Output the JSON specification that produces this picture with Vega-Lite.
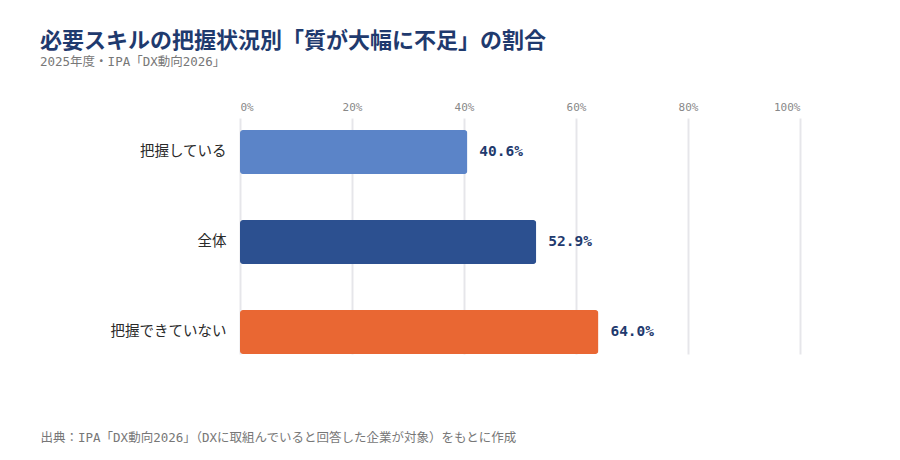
{
  "$schema": "https://vega.github.io/schema/vega-lite/v6.json",
  "width": 560,
  "height": 236,
  "autosize": {"type": "none"},
  "padding": {"left": 240, "top": 118, "right": 100, "bottom": 106},
  "background": "#ffffff",
  "title": {
    "text": "必要スキルの把握状況別「質が大幅に不足」の割合",
    "subtitle": "2025年度・IPA「DX動向2026」",
    "anchor": "start",
    "frame": "group",
    "dx": -200,
    "offset": 32,
    "font": "Noto Sans CJK JP",
    "fontSize": 22,
    "fontWeight": "bold",
    "color": "#1f3a6e",
    "subtitleFont": "DejaVu Sans Mono, Noto Sans CJK JP",
    "subtitleFontSize": 12.5,
    "subtitleColor": "#777777",
    "subtitlePadding": 3
  },
  "data": {
    "values": [
      {"group": "把握している", "rate": 0.406},
      {"group": "全体", "rate": 0.529},
      {"group": "把握できていない", "rate": 0.640}
    ]
  },
  "encoding": {
    "y": {
      "field": "group",
      "type": "nominal",
      "sort": null,
      "scale": {"paddingInner": 0.5111, "paddingOuter": 0.0667, "align": 1},
      "axis": {
        "title": null,
        "domain": false,
        "ticks": false,
        "labelPadding": 14,
        "labelFont": "Noto Sans CJK JP",
        "labelFontSize": 14.5,
        "labelColor": "#2a2a2a"
      }
    }
  },
  "layer": [
    {
      "mark": {"type": "bar", "cornerRadius": 3},
      "encoding": {
        "x": {
          "field": "rate",
          "type": "quantitative",
          "scale": {"domain": [0, 1]},
          "axis": {
            "orient": "top",
            "title": null,
            "format": ".0%",
            "values": [0, 0.2, 0.4, 0.6, 0.8, 1],
            "domain": false,
            "ticks": false,
            "labelPadding": 6,
            "labelFont": "DejaVu Sans Mono",
            "labelFontSize": 11,
            "labelColor": "#888888",
            "gridColor": "#e6e6ea",
            "gridWidth": 2
          }
        },
        "color": {
          "field": "group",
          "type": "nominal",
          "scale": {
            "domain": ["把握している", "全体", "把握できていない"],
            "range": ["#5b84c8", "#2c5090", "#e96733"]
          },
          "legend": null
        }
      }
    },
    {
      "mark": {
        "type": "text",
        "align": "left",
        "baseline": "middle",
        "dx": 12,
        "font": "DejaVu Sans Mono",
        "fontSize": 14.5,
        "fontWeight": "bold",
        "color": "#1f3a6e"
      },
      "encoding": {
        "x": {
          "field": "rate",
          "type": "quantitative",
          "axis": {
            "orient": "bottom",
            "title": "出典：IPA「DX動向2026」（DXに取組んでいると回答した企業が対象）をもとに作成",
            "titleAnchor": "start",
            "titleAlign": "left",
            "titleX": -200,
            "titleY": 87,
            "titleBaseline": "alphabetic",
            "titleFont": "DejaVu Sans Mono, Noto Sans CJK JP",
            "titleFontSize": 12.5,
            "titleFontWeight": "normal",
            "titleColor": "#777777",
            "labels": false,
            "ticks": false,
            "domain": false,
            "grid": false
          }
        },
        "text": {"field": "rate", "type": "quantitative", "format": ".1%"}
      }
    }
  ],
  "resolve": {"axis": {"x": "independent"}},
  "config": {"view": {"stroke": null}}
}
